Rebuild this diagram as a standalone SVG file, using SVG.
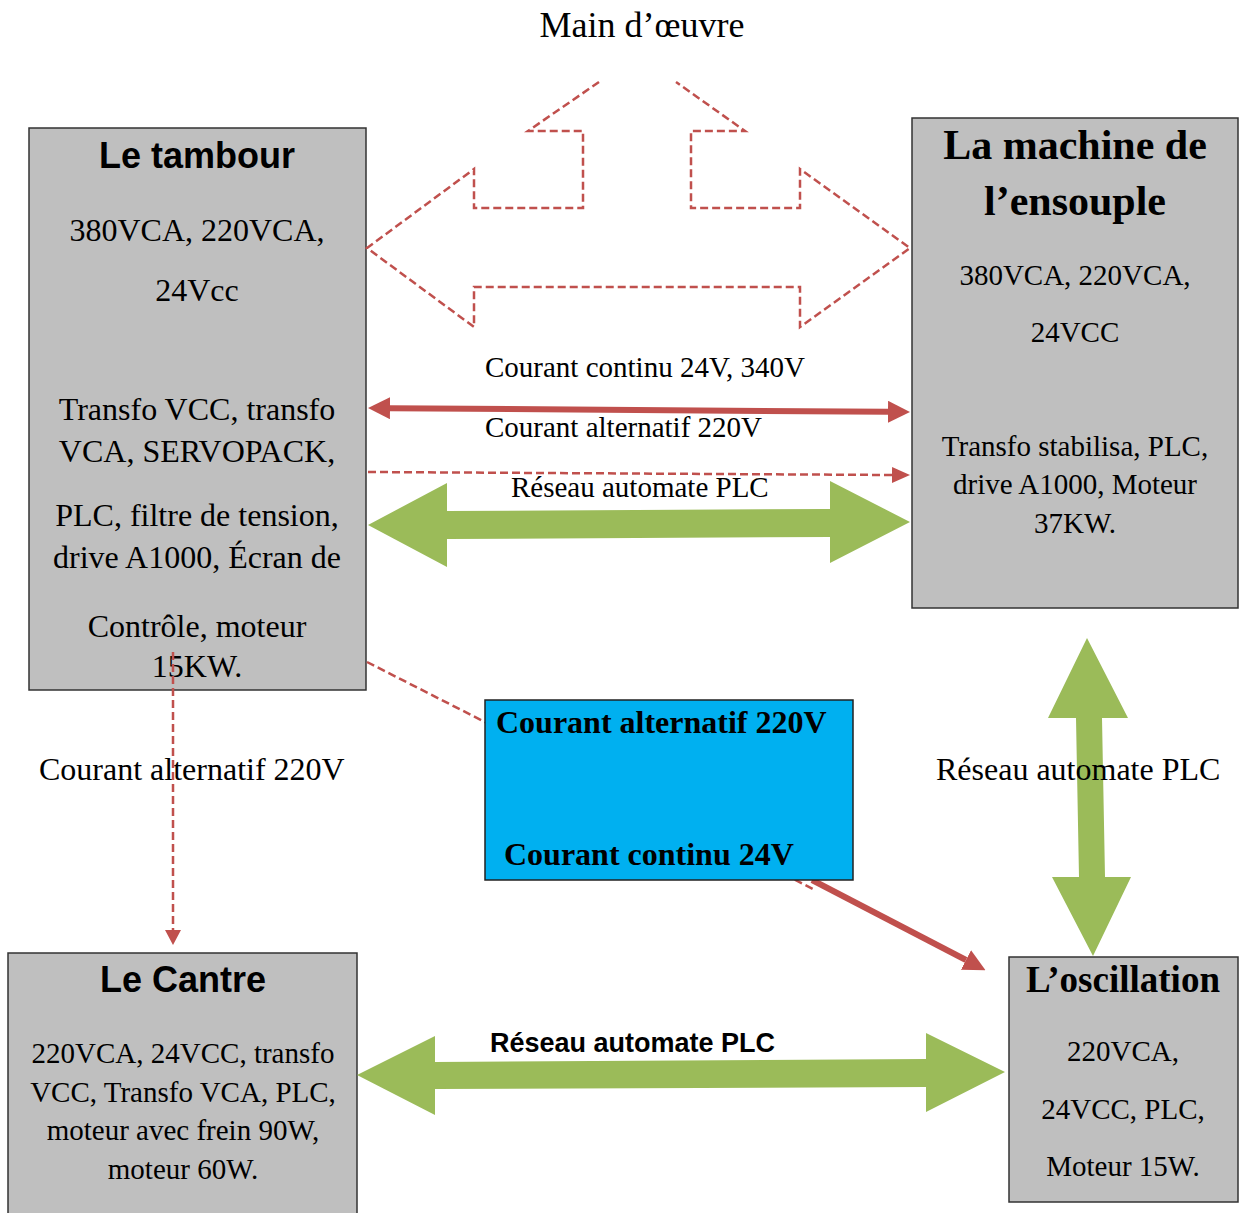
<svg xmlns="http://www.w3.org/2000/svg" width="1241" height="1213" viewBox="0 0 1241 1213">
<style>
.box{fill:#BFBFBF;stroke:#333;stroke-width:1.5}
.blue{fill:#00B0F0;stroke:#222;stroke-width:1.5}
.serif{font-family:"Liberation Serif","Times New Roman",serif;fill:#000}
.sans{font-family:"Liberation Sans",Arial,sans-serif;fill:#000;font-weight:bold}
.b{font-weight:bold}
.dash{fill:none;stroke:#C0504D;stroke-width:2.5;stroke-dasharray:8,4}
.red{fill:none;stroke:#C0504D;stroke-width:6}
.redfill{fill:#C0504D}
.green{fill:#9BBB59}
</style>
<defs>
<marker id="rh" markerUnits="userSpaceOnUse" markerWidth="22" markerHeight="22" refX="0" refY="11" orient="auto-start-reverse" viewBox="0 0 22 22">
<path d="M0,0 L22,11 L0,22 z" fill="#C0504D"/>
</marker>
<marker id="rhs" markerUnits="userSpaceOnUse" markerWidth="18" markerHeight="16" refX="0" refY="8" orient="auto" viewBox="0 0 18 16">
<path d="M0,0 L18,8 L0,16 z" fill="#C0504D"/>
</marker>
</defs>

<text class="serif" x="642" y="37" font-size="36" text-anchor="middle">Main d’œuvre</text>

<g id="node-tambour">
<rect class="box" x="29" y="128" width="337" height="562"/>
<text class="sans" x="197" y="168" font-size="36" text-anchor="middle">Le tambour</text>
<g class="serif" font-size="32" text-anchor="middle">
<text x="197" y="241">380VCA, 220VCA,</text>
<text x="197" y="301">24Vcc</text>
<text x="197" y="420">Transfo VCC, transfo</text>
<text x="197" y="462">VCA,  SERVOPACK,</text>
<text x="197" y="526">PLC, filtre de tension,</text>
<text x="197" y="568">drive A1000, Écran de</text>
<text x="197" y="637">Contrôle, moteur</text>
<text x="197" y="677">15KW.</text>
</g>
</g>

<g id="node-ensouple">
<rect class="box" x="912" y="118" width="326" height="490"/>
<g class="serif b" font-size="42" text-anchor="middle">
<text x="1075" y="159">La machine de</text>
<text x="1075" y="215">l’ensouple</text>
</g>
<g class="serif" font-size="29" text-anchor="middle">
<text x="1075" y="285">380VCA, 220VCA,</text>
<text x="1075" y="342">24VCC</text>
<text x="1075" y="456">Transfo stabilisa, PLC,</text>
<text x="1075" y="494">drive A1000, Moteur</text>
<text x="1075" y="533">37KW.</text>
</g>
</g>

<g id="node-cantre">
<rect class="box" x="8" y="953" width="349" height="270"/>
<text class="sans" x="183" y="992" font-size="36" text-anchor="middle">Le Cantre</text>
<g class="serif" font-size="29" text-anchor="middle">
<text x="183" y="1063">220VCA, 24VCC, transfo</text>
<text x="183" y="1102">VCC, Transfo VCA, PLC,</text>
<text x="183" y="1140">moteur avec frein 90W,</text>
<text x="183" y="1179">moteur 60W.</text>
</g>
</g>

<g id="node-oscillation">
<rect class="box" x="1009" y="957" width="229" height="245"/>
<text class="serif b" x="1123" y="992" font-size="37" text-anchor="middle">L’oscillation</text>
<g class="serif" font-size="29" text-anchor="middle">
<text x="1123" y="1061">220VCA,</text>
<text x="1123" y="1119">24VCC, PLC,</text>
<text x="1123" y="1176">Moteur 15W.</text>
</g>
</g>

<g id="connectors">
<polyline class="dash" points="599,82 528,131 583,131 583,208 474,208 474,169 367,248 474,327 474,287 800,287 800,327 910,248 800,169 800,208 691,208 691,131 745,131 676,82"/>
<line class="red" x1="390" y1="408.2" x2="888" y2="411.8" marker-start="url(#rh)" marker-end="url(#rh)"/>
<line class="dash" x1="368" y1="472" x2="892" y2="475" marker-end="url(#rhs)"/>
<polygon class="green" points="368,525 447,483 447,511 830,509 830,481 910,522 830,563 830,537 447,539 447,567"/>
<line class="dash" x1="367" y1="662" x2="815" y2="890"/>
<polygon class="green" points="1087,638 1128,718 1102,718 1105,877 1131,877 1093,956 1052,877 1079,877 1076,718 1048,718"/>
<polygon class="green" points="357,1075 435,1036 435,1062 926,1059 926,1033 1005,1072 926,1112 926,1087 435,1089 435,1115"/>
<line class="red" x1="812" y1="880" x2="966" y2="960" marker-end="url(#rh)"/>
</g>

<g id="node-blue">
<rect class="blue" x="485" y="700" width="368" height="180"/>
<g class="serif b" font-size="32">
<text x="496" y="733">Courant alternatif 220V</text>
<text x="504" y="865">Courant continu 24V</text>
</g>
</g>

<g id="labels">
<g class="serif" font-size="29">
<text x="485" y="377">Courant continu 24V, 340V</text>
<text x="485" y="437">Courant alternatif 220V</text>
<text x="511" y="497">Réseau automate PLC</text>
</g>
<text class="serif" x="39" y="780" font-size="32">Courant alternatif 220V</text>
<text class="serif" x="936" y="780" font-size="32">Réseau automate PLC</text>
<text class="sans" x="490" y="1052" font-size="27">Réseau automate PLC</text>
</g>

<g id="connector-down">
<line class="dash" x1="173" y1="652" x2="173" y2="931"/>
<polygon class="redfill" points="165,930 181,930 173,945"/>
</g>
</svg>
